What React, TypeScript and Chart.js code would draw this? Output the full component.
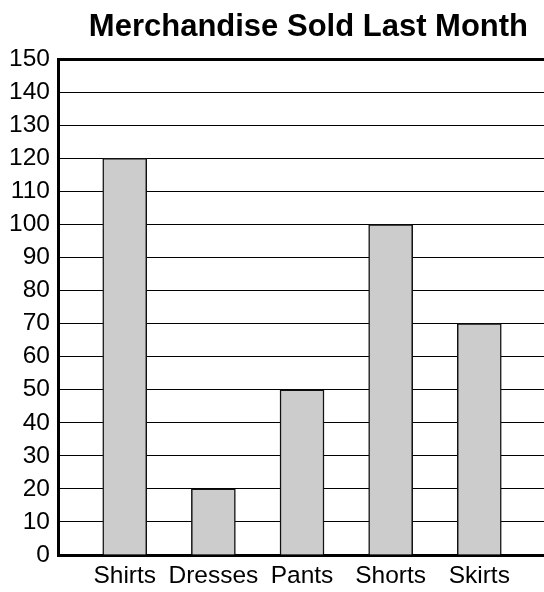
import React, { useEffect, useRef } from "react";
import { Chart, registerables } from "chart.js";

Chart.register(...registerables);

const categories: string[] = ["Shirts", "Dresses", "Pants", "Shorts", "Skirts"];
const sold: number[] = [120, 20, 50, 100, 70];
const yTicks: number[] = [0, 10, 20, 30, 40, 50, 60, 70, 80, 90, 100, 110, 120, 130, 140, 150];
const titleText = "Merchandise Sold Last Month";

const FONT = "'Liberation Sans', Arial, Helvetica, sans-serif";
const TITLE_FONT = { family: FONT, size: 31, weight: "bold" as const };

// Draws the title text (space is reserved by the built-in title plugin), nudged right like the reference.
const titleShiftPlugin = {
  id: "titleShift",
  afterDraw(chart: any) {
    const tb = chart.titleBlock;
    if (!tb) return;
    const ctx = chart.ctx;
    ctx.save();
    ctx.fillStyle = "#000";
    ctx.font = `bold ${TITLE_FONT.size}px ${FONT}`;
    ctx.textAlign = "center";
    ctx.textBaseline = "middle";
    const pad = tb.options.padding;
    const lh = TITLE_FONT.size * 1.2;
    const cy = tb.top + (pad && pad.top != null ? pad.top : 10) + lh / 2;
    const cx = tb.left + tb.width / 2 + 7;
    ctx.fillText(titleText, cx, cy);
    ctx.restore();
  },
};

export default function App() {
  const ref = useRef<HTMLCanvasElement | null>(null);
  useEffect(() => {
    if (!ref.current) return;
    const chart = new Chart(ref.current, {
      type: "bar",
      data: {
        datasets: [
          {
            data: sold.map((v, i) => ({ x: i, y: v })),
            backgroundColor: "#cccccc",
            borderColor: "#111111",
            borderWidth: 1.5,
            barThickness: 44,
          },
        ],
      },
      plugins: [titleShiftPlugin],
      options: {
        animation: false,
        responsive: false,
        maintainAspectRatio: false,
        layout: { padding: { left: 0, right: 0, top: 0, bottom: 0 } },
        plugins: {
          legend: { display: false },
          tooltip: { enabled: false },
          title: {
            display: true,
            text: titleText,
            fullSize: false,
            color: "rgba(0,0,0,0)",
            font: TITLE_FONT,
            padding: { top: 9, bottom: 13 },
          },
        },
        scales: {
          x: {
            type: "linear",
            offset: false,
            min: -0.743,
            max: 4.73,
            afterBuildTicks: (scale: any) => {
              scale.ticks = categories.map((_, i) => ({ value: i }));
            },
            afterFit: (scale: any) => {
              scale.height = 37;
            },
            ticks: {
              autoSkip: false,
              maxRotation: 0,
              color: "#000",
              font: { family: FONT, size: 24.5, lineHeight: 1.02 },
              padding: 9,
              callback: (v: any) => categories[v as number] ?? "",
            },
            grid: { display: false, drawTicks: false, offset: false },
            border: { display: true, color: "#000", width: 3 },
          },
          y: {
            min: 0,
            max: 150,
            afterBuildTicks: (scale: any) => {
              scale.ticks = yTicks.map((v) => ({ value: v }));
            },
            ticks: {
              color: "#000",
              font: { family: FONT, size: 24.5 },
              padding: 9,
              autoSkip: false,
            },
            grid: {
              color: "#000",
              lineWidth: (ctx: any) => (ctx.tick && ctx.tick.value === 150 ? 3 : 1),
              drawTicks: false,
            },
            border: { display: true, color: "#000", width: 3 },
          },
        },
      },
    } as any);
    return () => chart.destroy();
  }, []);
  return (
    <div style={{ position: "fixed", left: 0, top: 0, width: 544, height: 592, background: "#fff" }}>
      <canvas ref={ref} width={544} height={592} style={{ width: 544, height: 592 }} />
    </div>
  );
}
